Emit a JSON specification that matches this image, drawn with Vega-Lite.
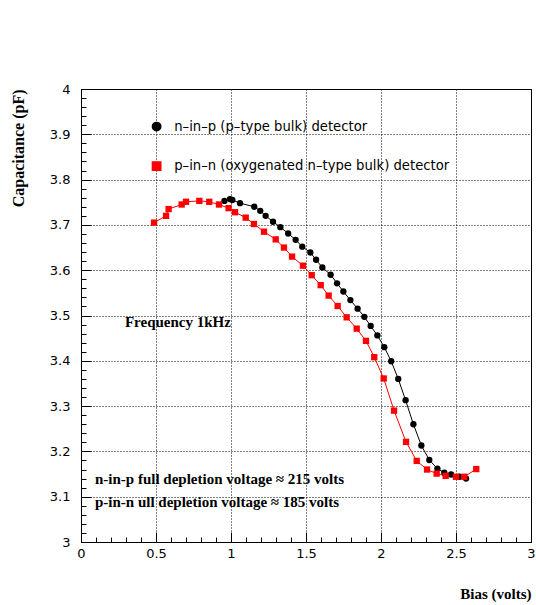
{
  "$schema": "https://vega.github.io/schema/vega-lite/v6.json",
  "autosize": "none",
  "width": 450,
  "height": 453,
  "padding": {"left": 81, "top": 89, "right": 5, "bottom": 63},
  "background": "white",
  "config": {
    "view": {"stroke": "black", "strokeWidth": 1},
    "axis": {
      "domainColor": "black",
      "tickColor": "black",
      "labelColor": "black",
      "labelFont": "DejaVu Sans",
      "labelFontSize": 13,
      "gridColor": "black",
      "gridDash": [1, 2],
      "gridWidth": 1,
      "titleFont": "Liberation Serif",
      "titleFontWeight": "bold",
      "titleFontSize": 15,
      "titleColor": "black"
    },
    "legend": {
      "orient": "none", "legendX": 69, "legendY": 31,
      "labelFont": "DejaVu Sans", "labelFontSize": 13.2, "labelColor": "black",
      "symbolSize": 70, "rowPadding": 24.5, "labelOffset": 11, "padding": 0, "labelLimit": 400
    }
  },
  "datasets": {
    "pts": [
      {"s": "n–in–p (p–type bulk) detector", "x": 0.956, "y": 3.753},
      {"s": "n–in–p (p–type bulk) detector", "x": 0.993, "y": 3.757},
      {"s": "n–in–p (p–type bulk) detector", "x": 1.009, "y": 3.755},
      {"s": "n–in–p (p–type bulk) detector", "x": 1.060, "y": 3.748},
      {"s": "n–in–p (p–type bulk) detector", "x": 1.155, "y": 3.740},
      {"s": "n–in–p (p–type bulk) detector", "x": 1.195, "y": 3.731},
      {"s": "n–in–p (p–type bulk) detector", "x": 1.231, "y": 3.720},
      {"s": "n–in–p (p–type bulk) detector", "x": 1.280, "y": 3.707},
      {"s": "n–in–p (p–type bulk) detector", "x": 1.329, "y": 3.695},
      {"s": "n–in–p (p–type bulk) detector", "x": 1.381, "y": 3.681},
      {"s": "n–in–p (p–type bulk) detector", "x": 1.431, "y": 3.667},
      {"s": "n–in–p (p–type bulk) detector", "x": 1.475, "y": 3.652},
      {"s": "n–in–p (p–type bulk) detector", "x": 1.529, "y": 3.639},
      {"s": "n–in–p (p–type bulk) detector", "x": 1.567, "y": 3.623},
      {"s": "n–in–p (p–type bulk) detector", "x": 1.609, "y": 3.606},
      {"s": "n–in–p (p–type bulk) detector", "x": 1.664, "y": 3.590},
      {"s": "n–in–p (p–type bulk) detector", "x": 1.707, "y": 3.571},
      {"s": "n–in–p (p–type bulk) detector", "x": 1.749, "y": 3.553},
      {"s": "n–in–p (p–type bulk) detector", "x": 1.796, "y": 3.534},
      {"s": "n–in–p (p–type bulk) detector", "x": 1.844, "y": 3.515},
      {"s": "n–in–p (p–type bulk) detector", "x": 1.889, "y": 3.497},
      {"s": "n–in–p (p–type bulk) detector", "x": 1.931, "y": 3.477},
      {"s": "n–in–p (p–type bulk) detector", "x": 1.976, "y": 3.456},
      {"s": "n–in–p (p–type bulk) detector", "x": 2.022, "y": 3.430},
      {"s": "n–in–p (p–type bulk) detector", "x": 2.068, "y": 3.399},
      {"s": "n–in–p (p–type bulk) detector", "x": 2.115, "y": 3.360},
      {"s": "n–in–p (p–type bulk) detector", "x": 2.164, "y": 3.313},
      {"s": "n–in–p (p–type bulk) detector", "x": 2.216, "y": 3.260},
      {"s": "n–in–p (p–type bulk) detector", "x": 2.269, "y": 3.213},
      {"s": "n–in–p (p–type bulk) detector", "x": 2.322, "y": 3.181},
      {"s": "n–in–p (p–type bulk) detector", "x": 2.376, "y": 3.162},
      {"s": "n–in–p (p–type bulk) detector", "x": 2.422, "y": 3.153},
      {"s": "n–in–p (p–type bulk) detector", "x": 2.467, "y": 3.149},
      {"s": "n–in–p (p–type bulk) detector", "x": 2.522, "y": 3.144},
      {"s": "n–in–p (p–type bulk) detector", "x": 2.567, "y": 3.140},
      {"s": "p–in–n (oxygenated n–type bulk) detector", "x": 0.487, "y": 3.705},
      {"s": "p–in–n (oxygenated n–type bulk) detector", "x": 0.567, "y": 3.720},
      {"s": "p–in–n (oxygenated n–type bulk) detector", "x": 0.584, "y": 3.735},
      {"s": "p–in–n (oxygenated n–type bulk) detector", "x": 0.671, "y": 3.745},
      {"s": "p–in–n (oxygenated n–type bulk) detector", "x": 0.700, "y": 3.751},
      {"s": "p–in–n (oxygenated n–type bulk) detector", "x": 0.789, "y": 3.753},
      {"s": "p–in–n (oxygenated n–type bulk) detector", "x": 0.855, "y": 3.751},
      {"s": "p–in–n (oxygenated n–type bulk) detector", "x": 0.920, "y": 3.745},
      {"s": "p–in–n (oxygenated n–type bulk) detector", "x": 0.984, "y": 3.737},
      {"s": "p–in–n (oxygenated n–type bulk) detector", "x": 1.027, "y": 3.728},
      {"s": "p–in–n (oxygenated n–type bulk) detector", "x": 1.098, "y": 3.716},
      {"s": "p–in–n (oxygenated n–type bulk) detector", "x": 1.153, "y": 3.702},
      {"s": "p–in–n (oxygenated n–type bulk) detector", "x": 1.220, "y": 3.685},
      {"s": "p–in–n (oxygenated n–type bulk) detector", "x": 1.298, "y": 3.668},
      {"s": "p–in–n (oxygenated n–type bulk) detector", "x": 1.353, "y": 3.650},
      {"s": "p–in–n (oxygenated n–type bulk) detector", "x": 1.407, "y": 3.630},
      {"s": "p–in–n (oxygenated n–type bulk) detector", "x": 1.480, "y": 3.610},
      {"s": "p–in–n (oxygenated n–type bulk) detector", "x": 1.538, "y": 3.589},
      {"s": "p–in–n (oxygenated n–type bulk) detector", "x": 1.598, "y": 3.567},
      {"s": "p–in–n (oxygenated n–type bulk) detector", "x": 1.651, "y": 3.544},
      {"s": "p–in–n (oxygenated n–type bulk) detector", "x": 1.711, "y": 3.521},
      {"s": "p–in–n (oxygenated n–type bulk) detector", "x": 1.771, "y": 3.496},
      {"s": "p–in–n (oxygenated n–type bulk) detector", "x": 1.838, "y": 3.471},
      {"s": "p–in–n (oxygenated n–type bulk) detector", "x": 1.900, "y": 3.444},
      {"s": "p–in–n (oxygenated n–type bulk) detector", "x": 1.955, "y": 3.408},
      {"s": "p–in–n (oxygenated n–type bulk) detector", "x": 2.018, "y": 3.361},
      {"s": "p–in–n (oxygenated n–type bulk) detector", "x": 2.087, "y": 3.290},
      {"s": "p–in–n (oxygenated n–type bulk) detector", "x": 2.167, "y": 3.221},
      {"s": "p–in–n (oxygenated n–type bulk) detector", "x": 2.238, "y": 3.179},
      {"s": "p–in–n (oxygenated n–type bulk) detector", "x": 2.307, "y": 3.160},
      {"s": "p–in–n (oxygenated n–type bulk) detector", "x": 2.371, "y": 3.151},
      {"s": "p–in–n (oxygenated n–type bulk) detector", "x": 2.431, "y": 3.146},
      {"s": "p–in–n (oxygenated n–type bulk) detector", "x": 2.500, "y": 3.144},
      {"s": "p–in–n (oxygenated n–type bulk) detector", "x": 2.555, "y": 3.144},
      {"s": "p–in–n (oxygenated n–type bulk) detector", "x": 2.635, "y": 3.161}
    ],
    "notes": [
      {"x": 0.293, "y": 3.486, "t": "Frequency 1kHz"},
      {"x": 0.093, "y": 3.139, "t": "n-in-p full depletion voltage ≈ 215 volts"},
      {"x": 0.093, "y": 3.088, "t": "p-in-n ull depletion voltage ≈ 185 volts"}
    ]
  },
  "encoding": {
    "x": {
      "field": "x", "type": "quantitative",
      "scale": {"domain": [0, 3], "nice": false, "zero": false},
      "axis": {
        "title": "Bias (volts)",
        "titleAnchor": "end",
        "titleAlign": "right",
        "titleX": 450,
        "titleY": 51,
        "titleBaseline": "middle",
        "values": [0,0.1,0.2,0.3,0.4,0.5,0.6,0.7,0.8,0.9,1,1.1,1.2,1.3,1.4,1.5,1.6,1.7,1.8,1.9,2,2.1,2.2,2.3,2.4,2.5,2.6,2.7,2.8,2.9,3],
        "labelExpr": "abs(datum.value*2-round(datum.value*2))<0.01 ? format(datum.value,'~g') : ''",
        "tickSize": {"condition": {"test": "abs(datum.value*2-round(datum.value*2))<0.01", "value": -10}, "value": -5},
        "gridOpacity": {"condition": {"test": "abs(datum.value*2-round(datum.value*2))<0.01", "value": 1}, "value": 0},
        "labelPadding": 15,
        "labelFlush": false,
        "labelOverlap": false
      }
    },
    "y": {
      "field": "y", "type": "quantitative",
      "scale": {"domain": [3, 4], "nice": false, "zero": false},
      "axis": {
        "title": "Capacitance (pF)",
        "titleAnchor": "end",
        "titleAlign": "right",
        "titleAngle": -90,
        "titleX": -63,
        "titleY": 0,
        "titleBaseline": "middle",
        "titleFontSize": 16,
        "values": [3,3.02,3.04,3.06,3.08,3.1,3.12,3.14,3.16,3.18,3.2,3.22,3.24,3.26,3.28,3.3,3.32,3.34,3.36,3.38,3.4,3.42,3.44,3.46,3.48,3.5,3.52,3.54,3.56,3.58,3.6,3.62,3.64,3.66,3.68,3.7,3.72,3.74,3.76,3.78,3.8,3.82,3.84,3.86,3.88,3.9,3.92,3.94,3.96,3.98,4],
        "labelExpr": "abs(datum.value*10-round(datum.value*10))<0.01 ? format(datum.value,'~g') : ''",
        "tickSize": {"condition": {"test": "abs(datum.value*10-round(datum.value*10))<0.01", "value": -10}, "value": -5},
        "gridOpacity": {"condition": {"test": "abs(datum.value*10-round(datum.value*10))<0.01", "value": 1}, "value": 0},
        "labelPadding": 21,
        "labelFlush": false,
        "labelOverlap": false
      }
    }
  },
  "layer": [
    {
      "data": {"name": "pts"},
      "mark": {"type": "line", "strokeWidth": 1},
      "encoding": {
        "color": {"field": "s", "type": "nominal", "title": null,
          "scale": {"domain": ["n–in–p (p–type bulk) detector", "p–in–n (oxygenated n–type bulk) detector"], "range": ["#000000", "#ff0000"]}}
      }
    },
    {
      "data": {"name": "pts"},
      "mark": {"type": "point", "filled": true, "opacity": 1, "size": 40},
      "encoding": {
        "color": {"field": "s", "type": "nominal", "title": null,
          "scale": {"domain": ["n–in–p (p–type bulk) detector", "p–in–n (oxygenated n–type bulk) detector"], "range": ["#000000", "#ff0000"]}},
        "shape": {"field": "s", "type": "nominal", "title": null,
          "scale": {"domain": ["n–in–p (p–type bulk) detector", "p–in–n (oxygenated n–type bulk) detector"], "range": ["circle", "square"]}}
      }
    },
    {
      "data": {"name": "notes"},
      "mark": {"type": "text", "align": "left", "baseline": "middle", "font": "Liberation Serif", "fontWeight": "bold", "fontSize": 15, "color": "black"},
      "encoding": {"text": {"field": "t"}}
    }
  ]
}
